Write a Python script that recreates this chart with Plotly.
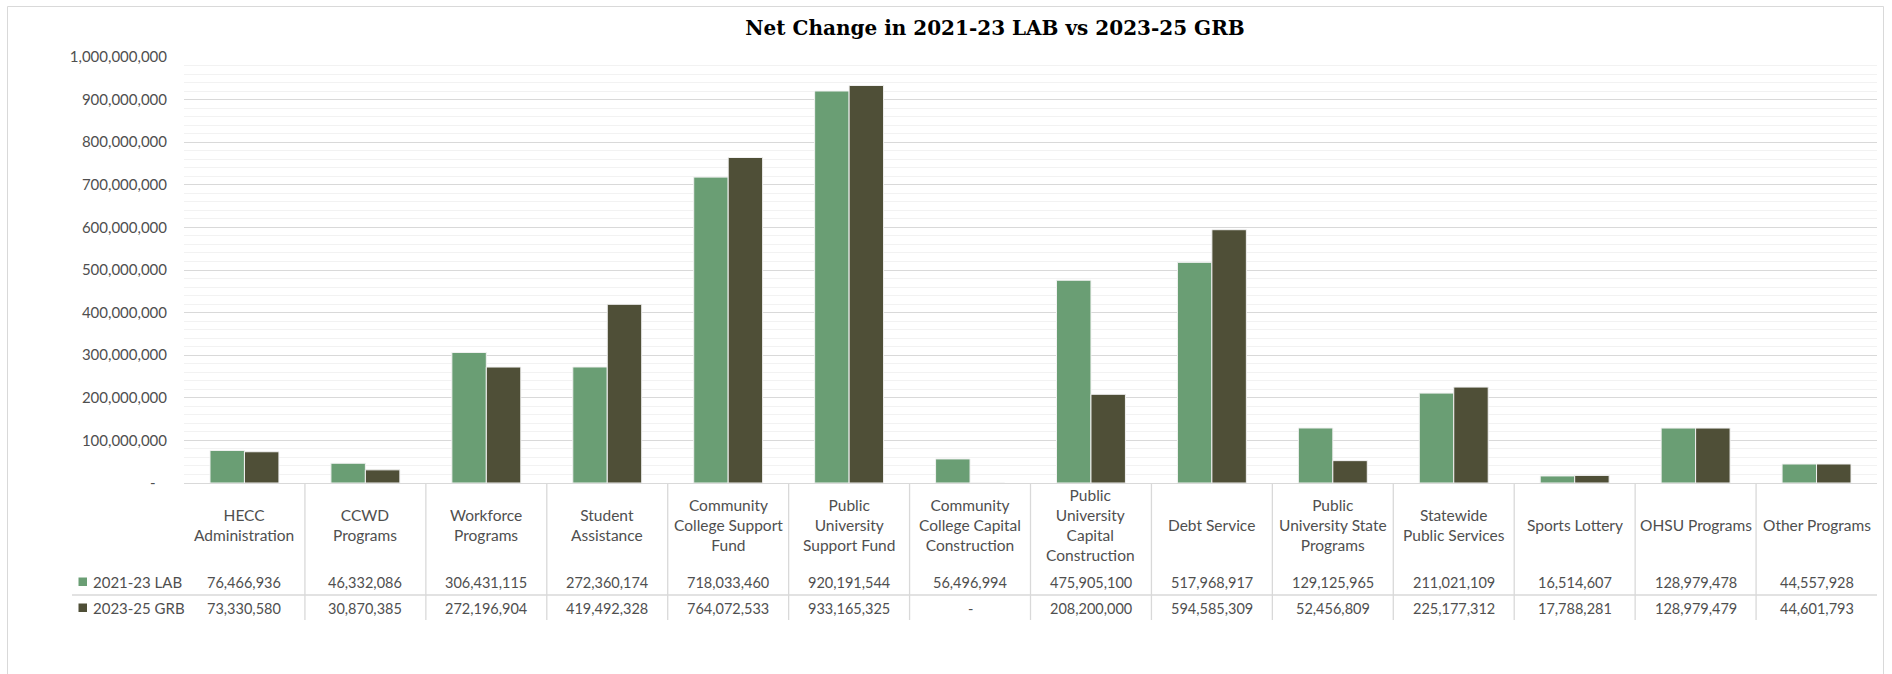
import plotly.graph_objects as go

categories = [
    "HECC<br>Administration",
    "CCWD<br>Programs",
    "Workforce<br>Programs",
    "Student<br>Assistance",
    "Community<br>College Support<br>Fund",
    "Public<br>University<br>Support Fund",
    "Community<br>College Capital<br>Construction",
    "Public<br>University<br>Capital<br>Construction",
    "Debt Service",
    "Public<br>University State<br>Programs",
    "Statewide<br>Public Services",
    "Sports Lottery",
    "OHSU Programs",
    "Other Programs",
]
lab_2021_23 = [76466936, 46332086, 306431115, 272360174, 718033460, 920191544, 56496994,
               475905100, 517968917, 129125965, 211021109, 16514607, 128979478, 44557928]
grb_2023_25 = [73330580, 30870385, 272196904, 419492328, 764072533, 933165325, 0,
               208200000, 594585309, 52456809, 225177312, 17788281, 128979479, 44601793]
series_names = ["2021-23 LAB", "2023-25 GRB"]
series_colors = ["#6A9E74", "#4F4F37"]
ytick_vals = [i * 100000000 for i in range(11)]
ytick_text = ["-\u00a0\u00a0\u00a0"] + [f"{v:,}" for v in ytick_vals[1:]]
title_text = "Net Change in 2021-23 LAB vs 2023-25 GRB"

W, H = 1892, 674
L, R, T, B = 184, 15, 57, 191
PW = W - L - R
PH = H - T - B
FONT = "Lato"
GREY = "#4F4F4F"


def px2x(px):
    return (px - L) / PW


def py2y(py):
    return (H - B - py) / PH


fig = go.Figure()
for name, vals, col in zip(series_names, [lab_2021_23, grb_2023_25], series_colors):
    fig.add_bar(x=categories, y=vals, name=name, marker=dict(color=col, line=dict(color="#F2F2F2", width=1)),
                showlegend=False)

annotations = []
shapes = []
# category header labels
for i, c in enumerate(categories):
    annotations.append(dict(x=i, xref="x", y=py2y(525), yref="paper", text=c, showarrow=False,
                            xanchor="center", yanchor="middle", font=dict(family=FONT, size=15.5, color=GREY)))
# values rows
for r, (vals, yy) in enumerate(zip([lab_2021_23, grb_2023_25], [582, 608])):
    for i, v in enumerate(vals):
        annotations.append(dict(x=i, xref="x", y=py2y(yy), yref="paper",
                                text=(f"{v:,}" if v else "-"), showarrow=False,
                                xanchor="center", yanchor="middle",
                                font=dict(family=FONT, size=14.5, color=GREY)))
    # legend key + name
    shapes.append(dict(type="rect", xref="paper", yref="paper",
                       x0=px2x(78.5), x1=px2x(87), y0=py2y(yy - 4.5), y1=py2y(yy + 4),
                       fillcolor=series_colors[r], line=dict(width=0)))
    annotations.append(dict(x=px2x(91), xref="paper", y=py2y(yy), yref="paper", text=series_names[r],
                            showarrow=False, xanchor="left", yanchor="middle",
                            font=dict(family=FONT, size=15, color=GREY)))

# table lines
for i in range(len(categories) - 1):
    shapes.append(dict(type="line", xref="x", yref="paper", x0=i + 0.5, x1=i + 0.5,
                       y0=0, y1=py2y(620), line=dict(color="#D9D9D9", width=1.3)))
shapes.append(dict(type="line", xref="paper", yref="paper", x0=px2x(72), x1=1,
                   y0=py2y(595), y1=py2y(595), line=dict(color="#D9D9D9", width=1.3)))
# chart border
shapes.append(dict(type="rect", xref="paper", yref="paper", x0=px2x(7.5), x1=px2x(1883.5),
                   y0=py2y(700), y1=py2y(6.5), line=dict(color="#D9D9D9", width=1)))

fig.update_layout(
    width=W, height=H,
    margin=dict(l=L, r=R, t=T, b=B),
    paper_bgcolor="white", plot_bgcolor="white",
    barmode="group", bargap=0.43, bargroupgap=0,
    title=dict(text="<b>" + title_text + "</b>", x=995 / W, xanchor="center", y=1 - 28 / H, yanchor="middle",
               font=dict(family="DejaVu Serif", size=20, color="#000000")),
    annotations=annotations,
    shapes=shapes,
    xaxis=dict(showticklabels=False, ticks="", showgrid=False, showline=True, linecolor="#D9D9D9",
               linewidth=1.3, range=[-0.5, len(categories) - 0.5]),
    yaxis=dict(range=[0, 1000000000], tickvals=ytick_vals, ticktext=ytick_text,
               tickfont=dict(family=FONT, size=15, color=GREY), ticks="", ticklabelstandoff=16,
               showgrid=True, gridcolor="#D9D9D9", gridwidth=1, zeroline=False,
               minor=dict(dtick=20000000, showgrid=True, gridcolor="#F2F2F2", gridwidth=1)),
)

fig.write_html("out.html")
